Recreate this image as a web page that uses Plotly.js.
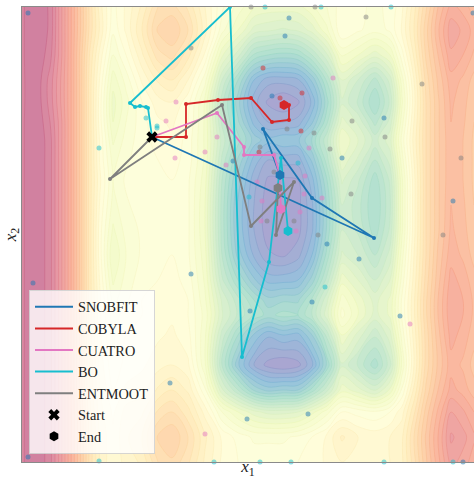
<!DOCTYPE html>
<html><head><meta charset="utf-8">
<script src="https://cdn.plot.ly/plotly-3.0.1.min.js"></script>
<style>html,body{margin:0;padding:0;background:#fff}#chart{width:474px;height:479px}</style>
</head><body><div id="chart"></div>
<script>
// Grid of the objective surface (positions in plot units)
const xGrid = [22,36,50,60,70,80,90,100,113,126,142,158,172,188,205,222,238,254,268,283,298,312,327,342,358,375,390,402,414,426,438,451,463,474];
const yGrid = [7,30,55,80,102,122,140,160,180,205,230,255,280,300,315,335,365,390,412,437,462];
// one array per x column, values along yGrid
const zCols = [
 [9.7,9.7,9.7,9.7,9.7,9.7,9.7,9.7,9.7,9.7,9.7,9.7,9.7,9.7,9.7,9.7,9.7,9.7,9.7,9.7,9.7],
 [10,10,10,9.95,9.95,10,10,10,10,10,10,10,10,10,10,10,10,10,10,10,10],
 [9.7,9.7,9.6,9.4,9.4,9.5,9.6,9.6,9.6,9.6,9.6,9.6,9.6,9.6,9.6,9.6,9.6,9.6,9.6,9.6,9.6],
 [8.9,8.9,8.9,8.8,8.8,8.9,8.9,8.9,8.9,8.9,8.9,8.9,8.9,8.9,8.9,8.9,8.9,8.9,8.9,8.9,8.9],
 [8.1,8.1,8.1,8.1,8.1,8.1,8.1,8.1,8.1,8.1,8.1,8.1,8.1,8.1,8.1,8.1,8.1,8.1,8.1,8.1,8.1],
 [7.3,7.3,7.2,7.2,7.2,7.2,7.2,7.2,7.2,7.2,7.2,7.2,7.2,7.2,7.2,7.2,7.2,7.2,7.3,7.3,7.3],
 [6.4,6.4,6.2,6.1,6.1,6.1,6.1,6.1,6.1,6.1,6.1,6.1,6.1,6.1,6.1,6.1,6.2,6.2,6.3,6.4,6.4],
 [5.6,5.7,5.4,5.2,5.1,5.1,5.2,5.2,5.3,5.2,5.1,5.1,5.2,5.3,5.3,5.3,5.4,5.5,5.6,5.7,5.7],
 [4.9,4.8,4.5,4.1,3.9,4.0,4.2,4.4,4.5,4.4,4.2,4.0,4.2,4.4,4.6,4.7,4.8,5.0,5.2,5.3,5.3],
 [5.3,5.3,5.0,4.6,4.4,4.5,4.6,4.7,4.8,4.7,4.6,4.5,4.6,4.7,4.9,5.0,5.1,5.3,5.6,5.7,5.6],
 [5.8,6.0,5.7,5.3,5.0,4.9,4.9,4.9,4.9,4.9,4.8,4.8,4.9,5.0,5.0,5.1,5.2,5.4,5.7,6.0,5.8],
 [6.5,6.8,6.4,5.8,5.4,5.2,5.1,5.0,5.0,5.0,5.0,5.0,5.0,5.1,5.1,5.2,5.4,5.8,6.3,6.8,6.5],
 [6.6,7.0,6.6,6.0,5.5,5.3,5.2,5.1,5.0,5.0,5.0,5.0,5.1,5.2,5.2,5.3,5.5,6.0,6.5,7.0,6.7],
 [6.2,6.5,6.1,5.5,5.1,5.0,4.9,4.9,4.8,4.8,4.8,4.8,4.9,5.0,5.0,5.1,5.3,5.7,6.1,6.5,6.3],
 [5.5,5.6,5.2,4.6,4.2,4.2,4.2,4.2,4.1,4.0,4.0,4.1,4.2,4.3,4.4,4.3,4.3,4.8,5.4,5.8,5.7],
 [4.8,4.6,3.8,3.0,2.6,2.7,2.9,2.7,2.5,2.4,2.4,2.5,2.8,3.2,3.3,2.9,2.5,3.3,4.5,5.2,5.2],
 [4.4,4.0,3.1,2.0,1.6,1.8,2.1,1.7,1.4,1.2,1.2,1.4,2.0,2.6,2.7,2.0,1.3,2.5,4.0,4.9,5.0],
 [4.0,3.4,2.2,1.0,0.6,0.9,1.4,0.9,0.6,0.5,0.5,0.7,1.3,2.0,2.2,1.2,0.5,1.7,3.6,4.7,4.9],
 [3.9,3.3,2.0,0.6,0.2,0.5,1.1,0.5,0.2,0.1,0.1,0.3,0.9,1.6,1.9,0.8,0.15,1.4,3.4,4.7,4.9],
 [3.9,3.2,1.9,0.6,0.0,0.5,1.2,0.6,0.2,0.05,0.0,0.2,0.9,1.7,2.1,1.0,0.0,1.5,3.4,4.7,4.9],
 [3.9,3.3,2.0,0.7,0.2,0.6,1.2,0.6,0.25,0.15,0.15,0.4,1.0,1.7,2.0,0.9,0.15,1.5,3.5,4.8,5.0],
 [4.2,3.6,2.5,1.3,0.8,1.2,1.8,1.3,0.9,0.7,0.7,1.0,1.6,2.3,2.5,1.5,0.7,2.1,3.9,5.0,5.1],
 [4.5,4.2,3.2,2.3,1.9,2.2,2.7,2.4,2.0,1.8,1.8,2.1,2.6,3.2,3.4,2.6,1.8,2.9,4.4,5.3,5.3],
 [4.9,5.0,4.3,3.5,3.2,3.6,4.0,3.7,3.3,3.0,3.0,3.3,3.9,4.4,4.6,4.0,3.2,3.9,5.0,5.8,5.5],
 [4.8,4.8,4.0,3.0,2.7,3.2,3.5,3.2,2.8,2.6,2.7,3.0,3.5,3.9,4.0,3.4,2.7,3.6,4.9,5.5,5.4],
 [4.7,4.6,3.6,2.4,2.0,2.4,2.9,2.5,2.1,2.0,2.1,2.5,3.0,3.4,3.4,2.8,2.1,3.2,4.8,5.4,5.4],
 [4.8,4.8,4.0,3.1,2.8,3.1,3.4,3.1,2.8,2.7,2.8,3.1,3.5,3.8,3.8,3.4,2.9,3.8,5.0,5.5,5.5],
 [5.2,5.3,4.9,4.4,4.2,4.4,4.6,4.4,4.2,4.2,4.2,4.4,4.6,4.8,4.8,4.6,4.3,4.8,5.4,5.7,5.7],
 [5.9,6.0,5.8,5.5,5.4,5.5,5.6,5.5,5.4,5.4,5.4,5.5,5.6,5.7,5.7,5.6,5.5,5.8,6.2,6.5,6.4],
 [6.7,6.9,6.8,6.6,6.5,6.5,6.5,6.5,6.5,6.5,6.5,6.5,6.6,6.7,6.7,6.6,6.6,6.8,7.1,7.3,7.2],
 [7.5,7.7,7.5,7.3,7.2,7.2,7.2,7.2,7.2,7.2,7.2,7.3,7.4,7.5,7.5,7.4,7.3,7.5,7.8,8.0,7.9],
 [8.1,8.4,8.2,7.9,7.8,7.75,7.7,7.7,7.7,7.75,7.8,7.9,8.1,8.2,8.2,8.1,7.9,8.1,8.5,8.8,8.6],
 [7.9,8.2,8.0,7.7,7.6,7.55,7.5,7.5,7.5,7.55,7.6,7.7,7.9,8.0,8.0,7.9,7.7,7.9,8.3,8.6,8.4],
 [7.6,7.9,7.7,7.4,7.3,7.25,7.2,7.2,7.2,7.25,7.3,7.4,7.6,7.7,7.7,7.6,7.4,7.6,8.0,8.3,8.1]
];

// Optimisation trajectories
const snobX = [152,374,312,263,280], snobY = [137,238,198,129,175];
const cobX = [152,186,186,218,251,272,289,289,284], cobY = [137,137,104,100,98,122,120,105,105];
const cuaX = [152,217,244,244,274,279,281], cuaY = [137,113,147,155,155,172,209];
const boX = [152,148,146,140,135,130,230,242,269,281,288], boY = [137,108,107,106,107,103,7,357,262,158,231];
const entX = [152,110,222,251,294,276,278], entY = [137,179,105,226,182,235,188];

// Sampled points
const snobSampX = [28,289,285,272,233,384,342,453,473,33,28,191,250,170,247,312,308,327,359,400,463];
const snobSampY = [13,18,36,96,161,118,158,201,13,283,457,274,311,383,419,302,414,244,259,316,462];
const cobSampX = [263,302,280,301,259];
const cobSampY = [68,93,98,131,152];
const cuaSampX = [176,166,217,205,175,226,333,309,305,257,262,304,300,261,296,322,205,410];
const cuaSampY = [102,121,137,152,158,165,78,148,176,182,201,194,212,221,231,198,434,324];
const boSampX = [99,146,157,157,298,249,265,321,391,325,214,260,291,384,453,99];
const boSampY = [148,118,126,128,163,197,7,7,7,287,462,462,462,462,462,461];
const entSampX = [191,251,315,366,287,314,260,274,267,294,422,352,385,330,461,351,318,443];
const entSampY = [48,7,7,17,129,133,147,172,221,221,84,121,137,149,158,194,235,235];

const names = ['SNOBFIT','COBYLA','CUATRO','BO','ENTMOOT'];
const colors = ['#1f77b4','#d62728','#e377c2','#17becf','#7f7f7f'];

const fillScale = [[0,'rgb(172,162,207)'],[0.1,'rgb(150,193,221)'],[0.2,'rgb(176,223,208)'],[0.3,'rgb(211,237,207)'],[0.4,'rgb(242,250,202)'],[0.5,'rgb(255,255,221)'],[0.6,'rgb(255,239,194)'],[0.7,'rgb(254,213,172)'],[0.8,'rgb(249,180,158)'],[0.9,'rgb(233,156,165)'],[1,'rgb(205,125,159)']];
const lineScale = [[0,'rgb(150,140,194)'],[0.1,'rgb(122,177,212)'],[0.2,'rgb(155,215,196)'],[0.3,'rgb(200,233,196)'],[0.4,'rgb(235,246,185)'],[0.5,'rgb(250,245,200)'],[0.6,'rgb(252,230,175)'],[0.7,'rgb(250,200,150)'],[0.8,'rgb(245,160,133)'],[0.9,'rgb(225,129,140)'],[1,'rgb(192,90,132)']];

const traces = [];
traces.push({type:'contour', x:xGrid, y:yGrid, z:zCols, transpose:true, zmin:0, zmax:10, zauto:false,
  autocontour:false, contours:{start:0, end:10.5, size:0.25, coloring:'fill', showlines:false},
  colorscale:fillScale, showscale:false, line:{width:0, smoothing:1}, hoverinfo:'skip', showlegend:false});
traces.push({type:'contour', x:xGrid, y:yGrid, z:zCols, transpose:true, zmin:0, zmax:10, zauto:false,
  autocontour:false, contours:{start:0, end:10.5, size:0.25, coloring:'lines'},
  colorscale:lineScale, showscale:false, line:{width:0.6, smoothing:1}, hoverinfo:'skip', showlegend:false});

const samp = [[snobSampX,snobSampY],[cobSampX,cobSampY],[cuaSampX,cuaSampY],[boSampX,boSampY],[entSampX,entSampY]];
samp.forEach((s,i)=>{
  traces.push({type:'scatter', mode:'markers', x:s[0], y:s[1], marker:{size:5, color:colors[i], opacity:0.5},
    showlegend:false, hoverinfo:'skip', cliponaxis:false});
});
const traj = [[snobX,snobY],[cobX,cobY],[cuaX,cuaY],[boX,boY],[entX,entY]];
traj.forEach((t,i)=>{
  traces.push({type:'scatter', mode:'lines+markers', x:t[0], y:t[1], line:{color:colors[i], width:1.8},
    marker:{size:4, color:colors[i]}, showlegend:false, hoverinfo:'skip'});
});
// legend line entries
traj.forEach((t,i)=>{
  traces.push({type:'scatter', mode:'lines', x:[null], y:[null], name:names[i], line:{color:colors[i], width:2}});
});
// Start
traces.push({type:'scatter', mode:'markers', x:[snobX[0]], y:[snobY[0]], name:'Start',
  marker:{symbol:'x', size:10, color:'black'}});
// End markers
traj.forEach((t,i)=>{
  const n = t[0].length-1;
  traces.push({type:'scatter', mode:'markers', x:[t[0][n]], y:[t[1][n]], showlegend:false,
    marker:{symbol:'hexagon', size:10, color:colors[i]}, hoverinfo:'skip'});
});
traces.push({type:'scatter', mode:'markers', x:[null], y:[null], name:'End',
  marker:{symbol:'hexagon', size:10, color:'black'}});

const ax = {showgrid:false, zeroline:false, showticklabels:false, ticks:'', showline:true,
  linecolor:'#8a8a8a', linewidth:1, mirror:true};
const layout = {
  width:474, height:479, margin:{l:22, r:0, t:7, b:17},
  paper_bgcolor:'white', plot_bgcolor:'white',
  font:{family:'Liberation Serif, serif', color:'#222'},
  xaxis:Object.assign({}, ax, {range:[22,474], title:{text:'<i>x</i><sub>1</sub>', font:{size:17}, standoff:0}}),
  yaxis:Object.assign({}, ax, {range:[462,7], title:{text:'<i>x</i><sub>2</sub>', font:{size:17}, standoff:0}}),
  legend:{x:0.0155, y:0.0176, xanchor:'left', yanchor:'bottom', bgcolor:'rgba(255,255,255,0.8)',
    bordercolor:'rgba(210,210,210,0.9)', borderwidth:1, itemwidth:38,
    font:{size:14.3, family:'Liberation Serif, serif', color:'#222'}, traceorder:'normal'},
  showlegend:true
};
Plotly.newPlot('chart', traces, layout, {staticPlot:true, displayModeBar:false});
</script>
</body></html>
